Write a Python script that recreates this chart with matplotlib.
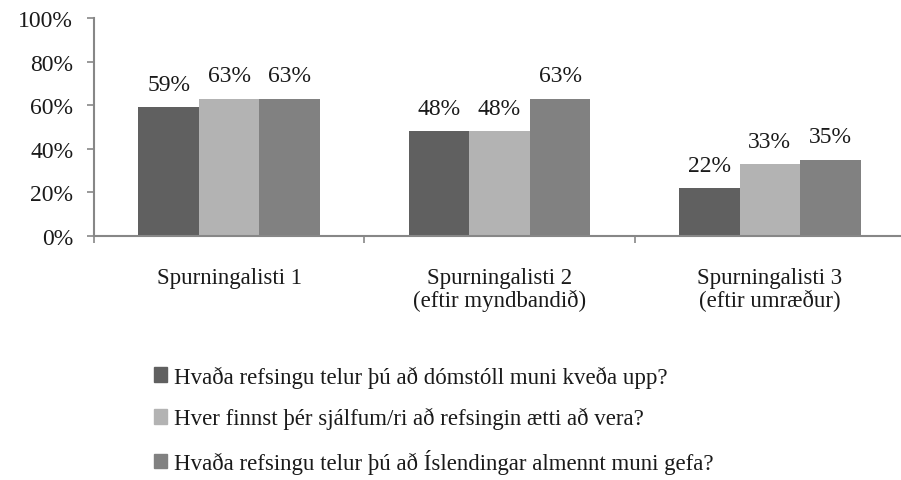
import numpy as np
import matplotlib.pyplot as plt
from matplotlib.patches import Patch

# -----------------------------
# Data
# -----------------------------
categories = ["Spurningalisti 1", "Spurningalisti 2\n(eftir myndbandið)", "Spurningalisti 3\n(eftir umræður)"]
series_names = [
    "Hvaða refsingu telur þú að dómstóll muni kveða upp?",
    "Hver finnst þér sjálfum/ri að refsingin ætti að vera?",
    "Hvaða refsingu telur þú að Íslendingar almennt muni gefa?",
]
court = [0.59, 0.48, 0.22]
own = [0.63, 0.48, 0.33]
public = [0.63, 0.63, 0.35]

COLORS = ["#606060", "#b3b3b3", "#818181"]
AXIS_COLOR = "#878787"
TEXT_COLOR = "#1a1a1a"
FONT = ["Liberation Serif", "DejaVu Serif"]

plt.rcParams["font.family"] = FONT
plt.rcParams["font.size"] = 16.5

fig = plt.figure(figsize=(9.01, 4.81), dpi=100)
ax = fig.add_axes([94 / 901, (481 - 237) / 481, 811 / 901, 218 / 481])

x = np.arange(len(categories))
width = 0.224
for i, vals in enumerate([court, own, public]):
    bars = ax.bar(x + (i - 1) * width, vals, width, color=COLORS[i], label=series_names[i])
    for b, v in zip(bars, vals):
        ax.annotate(f"{v:.0%}", (b.get_x() + b.get_width() / 2, v),
                    xytext=(0, 9), textcoords="offset points",
                    ha="center", va="bottom", color=TEXT_COLOR, fontsize=17)

ax.set_xlim(-0.5, 2.5)
ax.set_ylim(0, 1)
ax.set_yticks(np.arange(0, 1.01, 0.2))
ax.set_yticklabels([f"{int(t * 100)}%" for t in np.arange(0, 1.01, 0.2)], fontsize=17)

# category labels between boundary ticks
ax.set_xticks([-0.5, 0.5, 1.5, 2.5])
ax.set_xticklabels([])
ax.set_xticks(x, minor=True)
ax.set_xticklabels(categories, minor=True, color=TEXT_COLOR, linespacing=1.05)
ax.tick_params(axis="x", which="minor", length=0, pad=22)
ax.tick_params(axis="x", which="major", length=5, color=AXIS_COLOR, width=1.2)
ax.tick_params(axis="y", length=5, color=AXIS_COLOR, width=1.2, labelcolor=TEXT_COLOR, pad=10)

for s in ["top", "right"]:
    ax.spines[s].set_visible(False)
for s in ["left", "bottom"]:
    ax.spines[s].set_color(AXIS_COLOR)
    ax.spines[s].set_linewidth(1.5)

handles = [Patch(color=c) for c in COLORS]
fig.legend(handles, series_names, loc="upper left", bbox_to_anchor=(133 / 901, 1 - 346 / 481),
           frameon=False, handlelength=0.6, handleheight=0.6, handletextpad=0.3,
           labelspacing=0.85, labelcolor=TEXT_COLOR)

fig.savefig("out.png", dpi=100)
